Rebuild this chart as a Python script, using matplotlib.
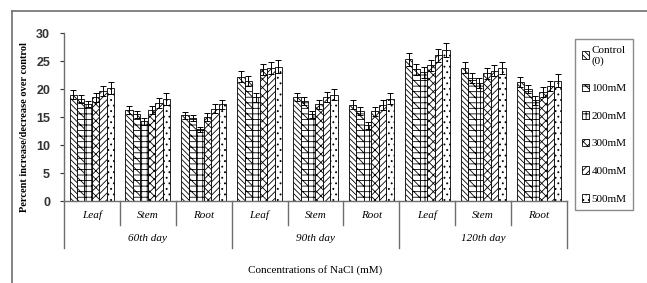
import matplotlib
matplotlib.use("Agg")
import matplotlib.pyplot as plt
import numpy as np
from matplotlib.transforms import blended_transform_factory

organs = ["Leaf", "Stem", "Root"]
days = ["60th day", "90th day", "120th day"]
series = ["Control\n(0)", "100mM", "200mM", "300mM", "400mM", "500mM"]

# rows = NaCl level, cols = 60d Leaf/Stem/Root, 90d ..., 120d ...
values = [
    [19.0, 16.3, 15.3, 22.2, 18.5, 17.2, 25.3, 23.8, 21.2],
    [18.2, 15.5, 14.8, 21.5, 17.8, 16.0, 23.5, 22.0, 20.0],
    [17.3, 14.2, 12.8, 18.5, 15.5, 13.5, 23.0, 21.0, 18.0],
    [18.5, 16.2, 15.0, 23.5, 17.3, 16.0, 24.2, 22.8, 19.5],
    [19.7, 17.5, 16.5, 23.8, 18.5, 17.2, 26.0, 23.3, 20.5],
    [20.2, 18.2, 17.3, 24.0, 19.0, 18.3, 27.0, 23.8, 21.5],
]
errors = [
    [0.8, 0.7, 0.6, 1.0, 0.7, 0.8, 1.2, 1.0, 0.9],
    [0.7, 0.6, 0.6, 0.9, 0.7, 0.7, 1.0, 0.9, 0.8],
    [0.6, 0.6, 0.5, 0.8, 0.6, 0.6, 1.0, 0.9, 0.8],
    [0.8, 0.7, 0.7, 1.0, 0.8, 0.8, 1.0, 1.0, 0.9],
    [0.9, 0.9, 0.8, 1.1, 0.9, 0.9, 1.1, 1.0, 0.9],
    [1.1, 1.1, 0.8, 1.2, 1.0, 0.9, 1.2, 1.1, 1.2],
]
hatches = ["\\\\\\\\\\\\", "\\\\\\---", "+++", "xxxx", "/////", "..."]

plt.rcParams["hatch.linewidth"] = 0.6
serif = ["Liberation Serif", "DejaVu Serif"]
grey = "#6e6e6e"

fig = plt.figure(figsize=(6.47, 2.83), dpi=100)
ax = fig.add_axes([64 / 647, 1 - 201 / 283, 503 / 647, 168 / 283])

n = len(series)
width = 0.8 / n
x = np.arange(len(values[0]))
for i in range(n):
    pos = x - 0.4 + width * (i + 0.5)
    ax.bar(pos, values[i], width, color="white", edgecolor="black",
           linewidth=0.6, hatch=hatches[i], label=series[i])
    ax.errorbar(pos, values[i], yerr=errors[i], fmt="none", ecolor="black",
                elinewidth=0.7, capsize=2.2, capthick=0.7)

ax.set_xlim(-0.5, len(x) - 0.5)
ax.set_ylim(0, 30)
ax.set_yticks(range(0, 31, 5))
ax.tick_params(axis="y", labelsize=9, length=3, pad=7, colors="#333333")
for lab in ax.get_yticklabels():
    lab.set_family("Liberation Sans")
    lab.set_fontweight("bold")
ax.set_xticks([])
for s in ["top", "right"]:
    ax.spines[s].set_visible(False)
ax.spines["left"].set_color(grey)
ax.spines["bottom"].set_color(grey)
ax.spines["left"].set_linewidth(1.0)
ax.spines["bottom"].set_linewidth(1.0)

# two level category axis
tr = blended_transform_factory(ax.transData, ax.transAxes)
for k in range(len(x) + 1):
    edge = k - 0.5
    low = -0.28 if k % 3 == 0 else -0.143
    ax.plot([edge, edge], [0, low], color=grey, lw=1.0, transform=tr, clip_on=False)
for k in range(len(x)):
    ax.text(k, -0.085, organs[k % 3], transform=tr, ha="center", va="center",
            family=serif, style="italic", fontsize=8)
for d in range(len(days)):
    ax.text(3 * d + 1, -0.225, days[d], transform=tr, ha="center", va="center",
            family=serif, style="italic", fontsize=8)

fig.text(0.5 * (64 + 567) / 647, 1 - 270 / 283, "Concentrations of NaCl (mM)",
         ha="center", va="center", family=serif, fontsize=8)
fig.text(25 / 647, 1 - 127 / 283, "Percent increase/decrease over control",
         rotation=90, ha="center", va="center", family=serif,
         fontweight="bold", fontsize=7.5)

# outer frame
fig.add_artist(plt.Line2D([12 / 647, 12 / 647], [0, 1 - 11 / 283],
                          color=grey, lw=1.2, transform=fig.transFigure))
fig.add_artist(plt.Line2D([12 / 647, 1], [1 - 11 / 283, 1 - 11 / 283],
                          color=grey, lw=1.2, transform=fig.transFigure))

leg = fig.legend(loc="upper left", bbox_to_anchor=(575 / 647, 1 - 39 / 283),
                 prop={"family": serif, "size": 8}, frameon=True,
                 handlelength=0.7, handleheight=0.7, handletextpad=0.2,
                 labelspacing=1.6, borderpad=0.6, fancybox=False,
                 borderaxespad=0)
leg.get_frame().set_edgecolor(grey)
leg.get_frame().set_linewidth(1.0)

fig.savefig("out.png", dpi=100)
